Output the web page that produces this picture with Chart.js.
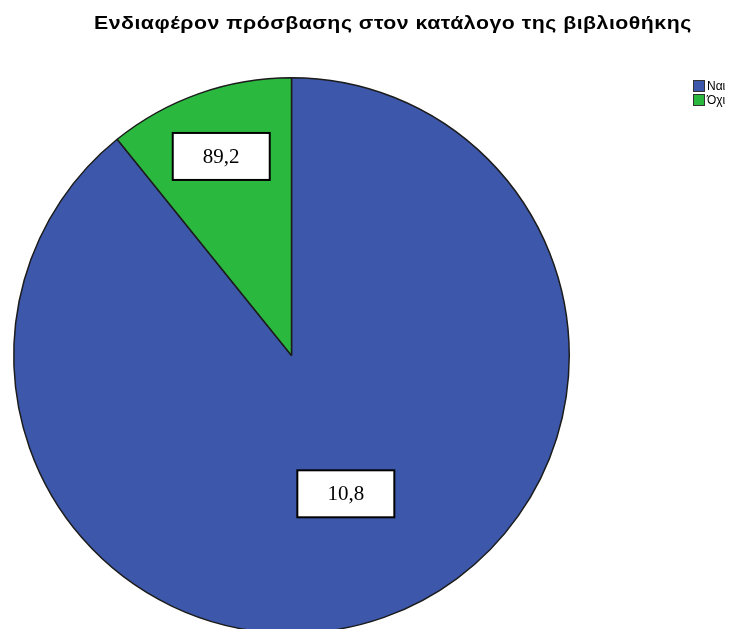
<!DOCTYPE html>
<html>
<head>
<meta charset="utf-8">
<script src="https://cdn.jsdelivr.net/npm/chart.js@4.4.1/dist/chart.umd.min.js"></script>
<style>
  html, body { margin: 0; padding: 0; background: #fff; overflow: hidden; }
  #wrap { width: 737px; height: 629px; overflow: hidden; }
</style>
</head>
<body>
<div id="wrap"><canvas id="myChart" width="737" height="680"></canvas></div>
<script>
const chartTitle = 'Ενδιαφέρον πρόσβασης στον κατάλογο της βιβλιοθήκης';
const categories = ['Ναι', 'Όχι'];
const percentages = [89.2, 10.8];
// text printed in each slice's box, as it reads on the chart
const sliceLabels = ['10,8', '89,2'];
const sliceColors = ['#3d58ab', '#2bb83f'];

// title, legend and boxed slice labels
const decorations = {
    id: 'decorations',
    afterDraw(chart) {
        const ctx = chart.ctx;
        ctx.save();

        // wide bold title
        ctx.save();
        ctx.fillStyle = '#000';
        ctx.font = 'bold 19px "Liberation Sans", Arial, sans-serif';
        ctx.letterSpacing = '0.45px';
        ctx.textAlign = 'left';
        ctx.textBaseline = 'alphabetic';
        ctx.translate(94, 29);
        ctx.scale(1.12, 1);
        ctx.fillText(chartTitle, 0, 0);
        ctx.restore();

        // legend
        ctx.font = '12px "Liberation Sans Narrow", "Liberation Sans", Arial, sans-serif';
        ctx.textAlign = 'left';
        ctx.textBaseline = 'middle';
        categories.forEach((name, i) => {
            const y = 80 + i * 14;
            ctx.fillStyle = sliceColors[i];
            ctx.fillRect(693, y, 12, 12);
            ctx.strokeStyle = '#333';
            ctx.lineWidth = 1;
            ctx.strokeRect(693.5, y + 0.5, 11, 11);
            ctx.fillStyle = '#000';
            ctx.fillText(name, 707, y + 7);
        });

        // boxed labels on the slices
        const meta = chart.getDatasetMeta(0);
        const radiusFactor = [0.535, 0.76];
        const angleShift = [-0.035, 0];
        meta.data.forEach((arc, i) => {
            const mid = (arc.startAngle + arc.endAngle) / 2 + angleShift[i];
            const r = arc.outerRadius * radiusFactor[i];
            const cx = arc.x + Math.cos(mid) * r;
            const cy = arc.y + Math.sin(mid) * r;
            const w = 97, h = 47;
            ctx.fillStyle = '#fff';
            ctx.fillRect(cx - w / 2, cy - h / 2, w, h);
            ctx.strokeStyle = '#000';
            ctx.lineWidth = 2;
            ctx.strokeRect(cx - w / 2, cy - h / 2, w, h);
            ctx.fillStyle = '#000';
            ctx.font = '21px "Liberation Serif", "Times New Roman", serif';
            ctx.textAlign = 'center';
            ctx.fillText(sliceLabels[i], cx, cy + 1);
        });

        ctx.restore();
    }
};

const ctx = document.getElementById('myChart').getContext('2d');
const myChart = new Chart(ctx, {
    type: 'pie',
    data: {
        labels: categories,
        datasets: [{
            data: percentages,
            backgroundColor: sliceColors,
            borderColor: '#1c1c1c',
            borderWidth: 1.5,
        }]
    },
    options: {
        responsive: false,
        animation: false,
        layout: {
            padding: { left: 12, top: 77, right: 166, bottom: 46 }
        },
        plugins: {
            legend: { display: false },
            title: { display: false },
            tooltip: { enabled: false }
        }
    },
    plugins: [decorations]
});
</script>
</body>
</html>
